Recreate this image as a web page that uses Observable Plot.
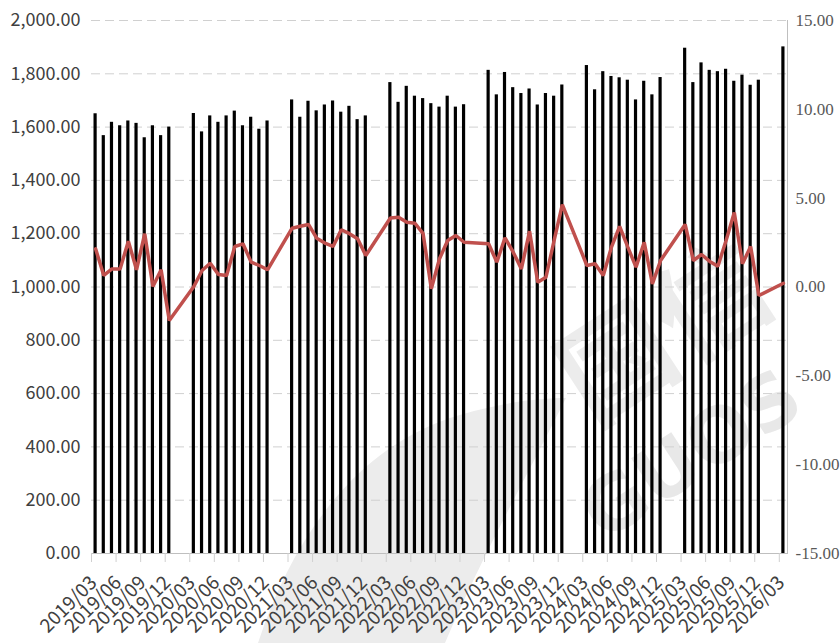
<!DOCTYPE html>
<html><head><meta charset="utf-8">
<script src="https://cdn.jsdelivr.net/npm/d3@7"></script>
<script src="https://cdn.jsdelivr.net/npm/@observablehq/plot@0.6"></script>
<style>
html,body{margin:0;padding:0;background:#fff;}
#wrap{position:relative;width:840px;height:643px;overflow:hidden;background:#fff;}
.wm{position:absolute;font-weight:bold;color:#e8e8e8;transform:rotate(-33deg);transform-origin:0 100%;white-space:nowrap;}
#wm1{left:612px;top:472px;height:84px;line-height:84px;font-family:"DejaVu Sans",sans-serif;font-size:76px;}
#wm2{left:598px;top:318px;height:118px;line-height:118px;font-family:"Noto Sans CJK SC",sans-serif;font-size:112px;color:#ececec;}
#swoosh{position:absolute;left:0;top:0;}
#chart{position:absolute;left:0;top:0;}
</style></head><body>
<div id="wrap">
<svg id="swoosh" width="840" height="643"><path d="M258 643 C290 545 350 452 450 418 C500 402 540 398 566 398 C530 470 480 560 445 643 Z" fill="#ececec"/></svg>
<div class="wm" id="wm2">国信</div>
<div class="wm" id="wm1">GUOS</div>
<div id="chart"></div></div>
<script>
// categories: monthly 2019/03 .. 2026/03
const startYear = 2019, startMonth = 3, endYear = 2026, endMonth = 3;
const months = [];
for (let y = startYear; y <= endYear; y++) {
  for (let m = 1; m <= 12; m++) {
    if (y === startYear && m < startMonth) continue;
    if (y === endYear && m > endMonth) continue;
    months.push(`${y}/${String(m).padStart(2, "0")}`);
  }
}
// bar series (left axis), Jan/Feb not reported
const barValues = [
  1650, 1568, 1618, 1605, 1623, 1614, 1560, 1605, 1568, 1600,
  null, null, 1651, 1582, 1642, 1618, 1642, 1660, 1605, 1637, 1592, 1623,
  null, null, 1702, 1637, 1697, 1661, 1683, 1698, 1656, 1678, 1628, 1642,
  null, null, 1767, 1693, 1753, 1716, 1707, 1688, 1675, 1716, 1675, 1684,
  null, null, 1813, 1721, 1805, 1748, 1726, 1743, 1683, 1726, 1716, 1758,
  null, null, 1831, 1740, 1808, 1790, 1785, 1776, 1702, 1772, 1721, 1786,
  null, null, 1896, 1767, 1841, 1813, 1808, 1817, 1772, 1795, 1757, 1776,
  null, null, 1901
];
// line series (right axis)
const lineValues = [
  2.15, 0.65, 1.02, 1.02, 2.58, 0.97, 3.0, 0.03, 0.97, -1.89,
  null, null, 0.03, 0.93, 1.34, 0.70, 0.65, 2.28, 2.43, 1.40, 1.21, 0.97,
  null, null, 3.31, 3.42, 3.52, 2.75, 2.47, 2.28, 3.22, 3.00, 2.71, 1.77,
  null, null, 3.88, 3.92, 3.65, 3.59, 3.00, -0.10, 1.59, 2.62, 2.90, 2.52,
  null, null, 2.43, 1.40, 2.77, 1.96, 1.02, 3.14, 0.27, 0.55, 2.62, 4.64,
  null, null, 1.21, 1.31, 0.65, 2.24, 3.41, 2.24, 1.12, 2.52, 0.18, 1.49,
  null, null, 3.52, 1.49, 1.83, 1.44, 1.17, 2.62, 4.19, 1.31, 2.28, -0.48,
  null, null, 0.21
];
const tickLabels = months.filter((m, i) => i % 3 === 0);
const leftTicks = [0, 200, 400, 600, 800, 1000, 1200, 1400, 1600, 1800, 2000];
const rightTicks = [-15, -10, -5, 0, 5, 10, 15];
const leftDomain = [0, 2000], rightDomain = [-15, 15];

const toLeft = v => (v - rightDomain[0]) / (rightDomain[1] - rightDomain[0]) * (leftDomain[1] - leftDomain[0]) + leftDomain[0];
const toRight = v => (v - leftDomain[0]) / (leftDomain[1] - leftDomain[0]) * (rightDomain[1] - rightDomain[0]) + rightDomain[0];

const data = months.map((m, i) => ({month: m, bar: barValues[i], rate: lineValues[i]}));
const W = 840, H = 643, mL = 91, mR = 53;
const bw = (W - mL - mR) / months.length;

const chart = Plot.plot({
  width: W, height: H,
  marginLeft: mL, marginRight: mR, marginTop: 20, marginBottom: 90,
  style: {background: "transparent", fontFamily: "'Noto Sans CJK SC', 'Noto Sans', sans-serif"},
  x: {type: "band", domain: months, padding: 0, round: false},
  y: {domain: leftDomain},
  marks: [
    Plot.gridY(leftTicks, {stroke: "#d0d0d0", strokeOpacity: 1, strokeDasharray: "9,5"}),
    Plot.axisY({ticks: leftTicks, tickSize: 0, tickPadding: 11, tickFormat: d3.format(",.2f"), fontSize: 18, fill: "#404040", label: null}),
    Plot.axisY({anchor: "right", ticks: rightTicks.map(toLeft), tickFormat: v => toRight(v).toFixed(2), tickSize: 0, tickPadding: 8, fontFamily: "'Liberation Serif', serif", fontSize: 17, fill: "#595959", label: null}),
    Plot.barY(data.filter(d => d.bar != null), {x: "month", y: "bar", fill: "#000", insetLeft: 2.5, insetRight: 2.5}),
    Plot.line(data.filter(d => d.rate != null), {x: "month", y: d => toLeft(d.rate), stroke: "#c0504d", strokeWidth: 3.5, strokeLinejoin: "miter"}),
    Plot.ruleY([0], {stroke: "#bfbfbf"}),
    Plot.frame({anchor: "right", stroke: "#bfbfbf"}),
    Plot.axisX({ticks: tickLabels, tickSize: 9, tickFormat: () => "", dx: -bw / 2, stroke: "#d0d0d0", label: null}),
    Plot.axisX({ticks: tickLabels, tickSize: 0, tickRotate: -45, tickPadding: 26, dx: -2, fontSize: 19, fill: "#404040", label: null})
  ]
});
document.getElementById("chart").appendChild(chart);
</script>
</body></html>
